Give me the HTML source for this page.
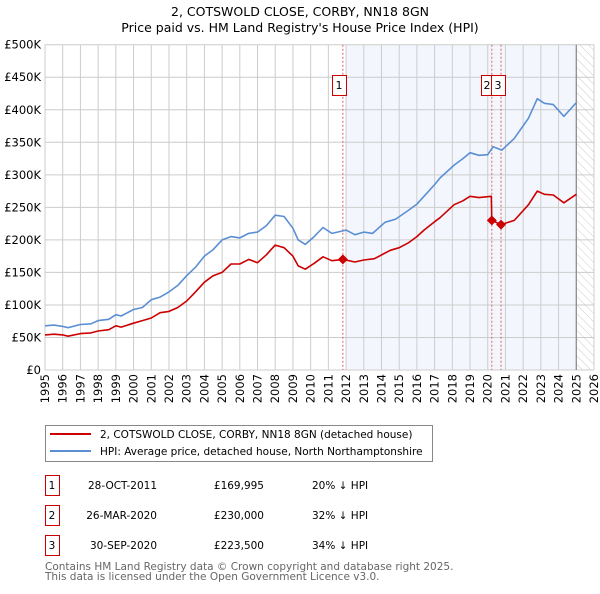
<!DOCTYPE html>
<html><head><meta charset="utf-8"><style>
body{margin:0;background:#fff;font-family:"DejaVu Sans","Liberation Sans",sans-serif;}
#wrap{position:relative;width:600px;height:590px;}
</style></head><body><div id="wrap">
<svg id="c" width="600" height="590" xmlns="http://www.w3.org/2000/svg" font-family="DejaVu Sans, Liberation Sans, sans-serif">
<text x="300" y="16" text-anchor="middle" font-size="12.5">2, COTSWOLD CLOSE, CORBY, NN18 8GN</text>
<text x="300" y="32" text-anchor="middle" font-size="12.5">Price paid vs. HM Land Registry's House Price Index (HPI)</text>
<defs><pattern id="hatch" width="6" height="6" patternUnits="userSpaceOnUse" patternTransform="rotate(-45)"><line x1="0" y1="0" x2="0" y2="6" stroke="#ccc" stroke-width="1"/></pattern></defs>
<g id="grid"></g><g id="series"></g><g id="marks"></g>
<g>
<rect x="45.5" y="425.5" width="387" height="36" fill="#fff" stroke="#888"/>
<line x1="50" y1="434" x2="91" y2="434" stroke="#cc0000" stroke-width="2"/>
<text x="100" y="438" font-size="10.5">2, COTSWOLD CLOSE, CORBY, NN18 8GN (detached house)</text>
<line x1="50" y1="451" x2="91" y2="451" stroke="#5b8fd4" stroke-width="2"/>
<text x="100" y="455" font-size="10.5">HPI: Average price, detached house, North Northamptonshire</text>
</g>
<g id="table"></g>
<text x="45" y="570" font-size="10.5" fill="#666">Contains HM Land Registry data © Crown copyright and database right 2025.</text>
<text x="45" y="580" font-size="10.5" fill="#666">This data is licensed under the Open Government Licence v3.0.</text>
</svg></div>
<script>
const hpiYears=[1995,1995.5,1996,1996.3,1997,1997.6,1998,1998.6,1999,1999.3,2000,2000.5,2001,2001.5,2002,2002.5,2003,2003.5,2004,2004.5,2005,2005.5,2006,2006.5,2007,2007.5,2008,2008.5,2009,2009.3,2009.7,2010.2,2010.7,2011.2,2012,2012.5,2013,2013.5,2014.2,2014.8,2015.5,2016,2016.4,2017,2017.3,2018.1,2018.6,2019,2019.5,2020,2020.3,2020.8,2021.5,2022.3,2022.8,2023.2,2023.7,2024.3,2025];
const hpiValues=[68,69,67,65,70,71,76,78,85,83,93,96,108,112,120,130,145,158,175,185,200,205,203,210,212,222,238,236,218,200,193,205,219,210,215,208,212,210,227,232,245,255,267,285,295,315,325,334,330,331,343,338,356,387,417,410,408,390,411];
const propYears=[1995,1995.5,1996,1996.3,1997,1997.6,1998,1998.6,1999,1999.3,2000,2000.5,2001,2001.5,2002,2002.5,2003,2003.5,2004,2004.5,2005,2005.5,2006,2006.5,2007,2007.5,2008,2008.5,2009,2009.3,2009.7,2010.2,2010.7,2011.2,2011.82,2012.5,2013,2013.6,2014.5,2015,2015.5,2016,2016.4,2017,2017.3,2018.1,2018.6,2019,2019.5,2020.2,2020.23,2020.75,2021.5,2022.3,2022.8,2023.2,2023.7,2024.3,2025];
const propValues=[54,55,54,52,56,57,60,62,68,66,72,76,80,88,90,96,106,120,135,145,150,163,163,170,165,177,192,188,175,160,155,164,174,168,170,166,169,171,184,188,195,205,215,228,234,254,260,267,265,267,230,223.5,230,254,275,270,269,257,270];
const saleYears=[2011.82,2020.23,2020.75];
const salePrices=[169995,230000,223500];
const saleLabels=["1","2","3"];
const saleDates=["28-OCT-2011","26-MAR-2020","30-SEP-2020"];
const salePriceText=["£169,995","£230,000","£223,500"];
const saleHpiText=["20% ↓ HPI","32% ↓ HPI","34% ↓ HPI"];
const yTicks=[0,50,100,150,200,250,300,350,400,450,500];
const yTickLabels=["£0","£50K","£100K","£150K","£200K","£250K","£300K","£350K","£400K","£450K","£500K"];
const xTicks=[1995,1996,1997,1998,1999,2000,2001,2002,2003,2004,2005,2006,2007,2008,2009,2010,2011,2012,2013,2014,2015,2016,2017,2018,2019,2020,2021,2022,2023,2024,2025,2026];

const NS="http://www.w3.org/2000/svg";
const L=45,R=594,T=44.7,B=370,X0=1995,X1=2026,YMAX=500;
const xs=y=>L+(y-X0)*(R-L)/(X1-X0);
const ys=v=>B-v*(B-T)/YMAX;
function mk(p,tag,attrs){const e=document.createElementNS(NS,tag);for(const k in attrs)e.setAttribute(k,attrs[k]);p.appendChild(e);return e;}
const grid=document.getElementById('grid');
let e=mk(grid,'rect',{x:xs(2012),y:T,width:xs(2025)-xs(2012),height:B-T,fill:'#eef3fc',opacity:0.7});


e=mk(grid,'rect',{x:xs(2025),y:T,width:R-xs(2025),height:B-T,fill:'url(#hatch)'});


yTicks.forEach((v,i)=>{
  let l=mk(grid,'line',{x1:L,x2:R,y1:ys(v),y2:ys(v),stroke:'#ccc','stroke-width':1});
  
  
  let t=mk(grid,'text',{x:L-4,y:ys(v)+4,'text-anchor':'end','font-size':11.5});
  t.textContent=yTickLabels[i];
  
  
});
xTicks.forEach(y=>{
  let l=mk(grid,'line',{x1:xs(y),x2:xs(y),y1:T,y2:B,stroke:'#ccc','stroke-width':1});
  
  
  let t=mk(grid,'text',{x:0,y:0,'text-anchor':'end','font-size':11.5,transform:`translate(${xs(y)+4},374) rotate(-90)`});
  t.textContent=y;
  
  
});
e=mk(grid,'line',{x1:xs(2025),x2:xs(2025),y1:T,y2:B,stroke:'#888','stroke-width':1.2});


const ser=document.getElementById('series');
saleYears.forEach(y=>{
  let l=mk(ser,'line',{x1:xs(y),x2:xs(y),y1:T,y2:B,stroke:'#e06060','stroke-width':1,'stroke-dasharray':'2,2'});
  
  
});
function line(xa,va,col,name){
  const d=xa.map((x,i)=>(i?'L':'M')+xs(x).toFixed(1)+','+ys(va[i]).toFixed(1)).join('');
  let p=mk(ser,'path',{d:d,fill:'none',stroke:col,'stroke-width':1.6,'stroke-linejoin':'round'});
  
  
}
line(hpiYears,hpiValues,'#5b8fd4','hpi-line');
line(propYears,propValues,'#cc0000','property-line');
const marks=document.getElementById('marks');
const boxX=[332,481,491];
saleYears.forEach((y,i)=>{
  const cx=xs(y),cy=ys(salePrices[i]/1000);
  let d=mk(marks,'path',{d:`M${cx},${cy-5}L${cx+5},${cy}L${cx},${cy+5}L${cx-5},${cy}Z`,fill:'#cc0000'});
  
  
  let b=mk(marks,'rect',{x:boxX[i]+0.5,y:75.5,width:i==1?10:14,height:20,fill:'#fff',stroke:'#cc0000'});
  
  
  let t=mk(marks,'text',{x:boxX[i]+(i==1?6:7),y:89,'text-anchor':'middle','font-size':11});
  t.textContent=saleLabels[i];
  
  
});
const tb=document.getElementById('table');
saleLabels.forEach((s,i)=>{
  const y0=475+i*30;
  let b=mk(tb,'rect',{x:45.5,y:y0+0.5,width:14,height:20,fill:'#fff',stroke:'#cc0000'});
  
  
  const cells=[[52,'middle',s,'row-number'],[157,'end',saleDates[i],'row-date'],[264,'end',salePriceText[i],'row-price'],[312,'start',saleHpiText[i],'row-hpi-diff']];
  cells.forEach(c=>{
    let t=mk(tb,'text',{x:c[0],y:y0+14,'text-anchor':c[1],'font-size':10.5});
    t.textContent=c[2];
    
    
  });
});
</script></body></html>
